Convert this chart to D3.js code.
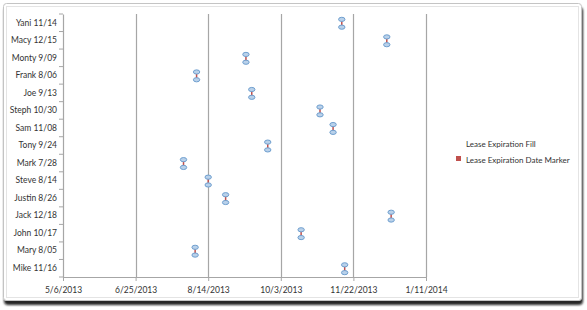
<!DOCTYPE html>
<html>
<head>
<meta charset="utf-8">
<script src="https://cdn.jsdelivr.net/npm/d3@7"></script>
<style>
  body { margin: 0; background: #fff; }
  text { font-family: Lato, "Liberation Sans", sans-serif; fill: #333; }
</style>
</head>
<body>
<div id="chart"></div>
<script>
// top to bottom, as drawn
const names = ['Yani', 'Macy', 'Monty', 'Frank', 'Joe', 'Steph', 'Sam', 'Tony', 'Mark', 'Steve', 'Justin', 'Jack', 'John', 'Mary', 'Mike']
const leaseDates = ['2013-11-14', '2013-12-15', '2013-09-09', '2013-08-06', '2013-09-13', '2013-10-30', '2013-11-08',
  '2013-09-24', '2013-07-28', '2013-08-14', '2013-08-26', '2013-12-18', '2013-10-17', '2013-08-05', '2013-11-16']
const tickDates = ['2013-05-06', '2013-06-25', '2013-08-14', '2013-10-03', '2013-11-22', '2014-01-11']
const legendLabels = ['Lease Expiration Fill', 'Lease Expiration Date Marker']

const W = 587
const H = 310
const parse = d3.utcParse('%Y-%m-%d')
const fmtTick = d => `${d.getUTCMonth() + 1}/${d.getUTCDate()}/${d.getUTCFullYear()}`
const fmtShort = d => `${d.getUTCMonth() + 1}/${String(d.getUTCDate()).padStart(2, '0')}`

const rows = names.map((n, i) => ({ name: n, date: parse(leaseDates[i]) }))
rows.forEach(r => { r.label = `${r.name} ${fmtShort(r.date)}` })
const ticks = tickDates.map(parse)

const svg = d3.select('#chart').append('svg')
  .attr('width', W)
  .attr('height', H)

// frame with drop shadow
const defs = svg.append('defs')
const f = defs.append('filter').attr('id', 'sh').attr('x', '-5%').attr('y', '-5%').attr('width', '110%').attr('height', '115%')
f.append('feDropShadow').attr('dx', 1).attr('dy', 4).attr('stdDeviation', 1.2).attr('flood-color', '#111').attr('flood-opacity', 0.9)
svg.append('rect')
  .attr('x', 3.5).attr('y', 3.5).attr('width', 578).attr('height', 297)
  .attr('rx', 3).attr('fill', '#fff').attr('stroke', '#c4c4c4')
  .attr('filter', 'url(#sh)')
svg.append('rect')
  .attr('x', 6.5).attr('y', 6.5).attr('width', 572).attr('height', 291)
  .attr('fill', 'none').attr('stroke', '#e4e4e4')

const x = d3.scaleUtc()
  .domain([ticks[0], ticks[ticks.length - 1]])
  .range([63, 426])
const y = d3.scaleBand()
  .domain(rows.map(r => r.label))
  .range([14, 277])

// gridlines
svg.append('g')
  .selectAll('line')
  .data(ticks.slice(1))
  .join('line')
  .attr('x1', d => Math.round(x(d)) + 0.5)
  .attr('x2', d => Math.round(x(d)) + 0.5)
  .attr('y1', 14)
  .attr('y2', 277)
  .attr('stroke', '#a6a6a6')
  .attr('stroke-width', 1.2)

const xAxis = svg.append('g')
  .attr('transform', 'translate(0,277)')
  .call(d3.axisBottom(x).tickValues(ticks).tickFormat(fmtTick).tickSize(4).tickSizeOuter(0))
const yAxis = svg.append('g')
  .attr('transform', 'translate(63,0)')
  .call(d3.axisLeft(y).tickSize(0).tickPadding(6))
// category separators
yAxis.selectAll('.sep')
  .data(d3.range(rows.length + 1))
  .join('line')
  .attr('x1', -4).attr('x2', 0)
  .attr('y1', i => 14 + i * y.step())
  .attr('y2', i => 14 + i * y.step())
  .attr('stroke', '#a6a6a6')

for (const ax of [xAxis, yAxis]) {
  ax.select('.domain').attr('stroke', '#a6a6a6').attr('stroke-width', 1.2)
  ax.selectAll('.tick line').attr('stroke', '#a6a6a6')
  ax.selectAll('text').attr('font-size', 8.5).attr('fill', '#333').style('font-family', 'Lato, sans-serif')
}
xAxis.selectAll('text').attr('dy', '1.1em')

// markers: red stem with a pale blue bead at each end
const gm = svg.append('g')
const mk = gm.selectAll('g')
  .data(rows)
  .join('g')
  .attr('transform', d => `translate(${x(d.date)},${y(d.label) + y.bandwidth() / 2 + 0.5})`)
mk.append('line')
  .attr('y1', -3.5).attr('y2', 3.5)
  .attr('stroke', '#c0504d').attr('stroke-width', 1.5)
mk.selectAll('ellipse')
  .data([-3.9, 3.9])
  .join('ellipse')
  .attr('cy', d => d)
  .attr('rx', 3.2).attr('ry', 2.1)
  .attr('fill', '#b9d1ea').attr('stroke', '#6f9fcf').attr('stroke-width', 1)

// legend
const lg = svg.append('g').attr('transform', 'translate(456,0)')
lg.append('text').attr('x', 10).attr('y', 147).attr('font-size', 8).text(legendLabels[0])
lg.append('rect').attr('x', 0).attr('y', 156).attr('width', 5).attr('height', 5).attr('fill', '#c0504d')
lg.append('text').attr('x', 10).attr('y', 163).attr('font-size', 8).text(legendLabels[1])
</script>
</body>
</html>
